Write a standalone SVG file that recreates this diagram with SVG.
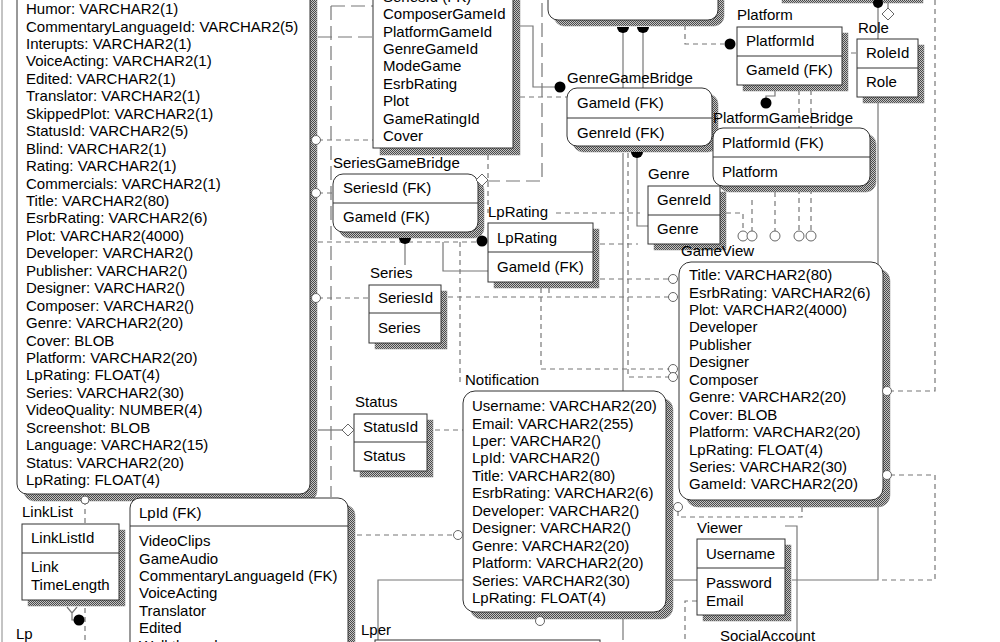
<svg xmlns="http://www.w3.org/2000/svg" width="1000" height="642" viewBox="0 0 1000 642">
<style>
.box{fill:#fff;stroke:#333;stroke-width:1}
.sh{fill:url(#hatch);stroke:#888;stroke-width:0.5}
.dv{stroke:#333;stroke-width:1}
.t{font-family:"Liberation Sans",Arial,sans-serif;font-size:15px;fill:#000}
.ln{fill:none;stroke:#777;stroke-width:1.2}
.ds{stroke-dasharray:5 4}
.ld{stroke-dasharray:14 6}
.dot{fill:#000}
.hc{fill:#fff;stroke:#666;stroke-width:1}
</style>
<defs>
<pattern id="hatch" width="2" height="2" patternUnits="userSpaceOnUse">
<rect width="2" height="2" fill="#c4c4c4"/>
<rect width="1" height="1" fill="#4a4a4a"/>
<rect x="1" y="1" width="1" height="1" fill="#4a4a4a"/>
</pattern>
</defs>
<rect width="1000" height="642" fill="#fff"/>
<line x1="2" y1="0" x2="2" y2="642" stroke="#888" stroke-width="1"/>

<g id="connectors">
<path class="ln ds" d="M318 140H373"/>
<path class="ln ds" d="M318 193H333"/>
<path class="ln ds" d="M318 298H369M448 297H669"/>
<path class="ln ld" d="M331 6V497M331 6H373M318 37H373"/>
<path class="ln ds" d="M318 242H478"/>
<path class="ln" d="M405 238V265"/>
<path class="ln" d="M443 242V271H488"/>
<path class="ln ds" d="M460 242V385"/>
<path class="ln ds" d="M488 155V213M556 213H640"/>
<path class="ln ld" d="M486 181H542V0"/>
<path class="ln" d="M520 26H533V87H555"/>
<path class="ln ds" d="M520 97H567"/>
<path class="ln" d="M623 27V88M643 27V88"/>
<path class="ln ds" d="M685 25V44H724"/>
<path class="ln" d="M775 90V96H766V100"/>
<path class="ln ds" d="M842 53H857"/>
<path class="ln" d="M878 3V580H792"/>
<path class="ln" d="M888 0V8"/>
<path class="ln ds" d="M935 0V391H891"/>
<path class="ln ds" d="M890 475H935V580H878"/>
<path class="ln ds" d="M726 213H743V231M752 200V231M775 192V231M799 90V231M811 90V231"/>
<path class="ln" d="M637 153V226H648"/>
<path class="ln" d="M623 153V391"/>
<path class="ln ds" d="M628 153V377H669"/>
<path class="ln ds" d="M600 279H669"/>
<path class="ln ds" d="M541 288V369H669M549 288V297"/>
<path class="ln ds" d="M600 244H638"/>
<path class="ln ds" d="M435 430H463"/>
<path class="ln" d="M318 430H344"/>
<path class="ln ds" d="M357 535H454"/>
<path class="ln" d="M463 580H378V642"/>
<path class="ln" d="M673 580H697"/>
<path class="ln ds" d="M697 601H685V642"/>
<path class="ln" d="M785 526H797V642"/>
<path class="ln ds" d="M678 511V517H802V506"/>
<path class="ln" d="M623 619V640"/>
<path class="ln ds" d="M85 500V642"/>
<path class="ln" d="M67 607L72 613L77 607M72 613V620H75"/>
</g>

<g id="big-entity">
<rect class="sh" x="24" y="-14" width="293" height="515" rx="10"/>
<rect class="box" x="17" y="-21" width="293" height="515" rx="10"/>
<text class="t" x="26" y="14">Humor: VARCHAR2(1)</text>
<text class="t" x="26" y="31.5">CommentaryLanguageId: VARCHAR2(5)</text>
<text class="t" x="26" y="49">Interupts: VARCHAR2(1)</text>
<text class="t" x="26" y="66.4">VoiceActing: VARCHAR2(1)</text>
<text class="t" x="26" y="83.8">Edited: VARCHAR2(1)</text>
<text class="t" x="26" y="101.3">Translator: VARCHAR2(1)</text>
<text class="t" x="26" y="118.7">SkippedPlot: VARCHAR2(1)</text>
<text class="t" x="26" y="136.2">StatusId: VARCHAR2(5)</text>
<text class="t" x="26" y="153.6">Blind: VARCHAR2(1)</text>
<text class="t" x="26" y="171">Rating: VARCHAR2(1)</text>
<text class="t" x="26" y="188.5">Commercials: VARCHAR2(1)</text>
<text class="t" x="26" y="206">Title: VARCHAR2(80)</text>
<text class="t" x="26" y="223.4">EsrbRating: VARCHAR2(6)</text>
<text class="t" x="26" y="240.8">Plot: VARCHAR2(4000)</text>
<text class="t" x="26" y="258.3">Developer: VARCHAR2()</text>
<text class="t" x="26" y="275.7">Publisher: VARCHAR2()</text>
<text class="t" x="26" y="293.2">Designer: VARCHAR2()</text>
<text class="t" x="26" y="310.6">Composer: VARCHAR2()</text>
<text class="t" x="26" y="328">Genre: VARCHAR2(20)</text>
<text class="t" x="26" y="345.5">Cover: BLOB</text>
<text class="t" x="26" y="363">Platform: VARCHAR2(20)</text>
<text class="t" x="26" y="380.4">LpRating: FLOAT(4)</text>
<text class="t" x="26" y="397.8">Series: VARCHAR2(30)</text>
<text class="t" x="26" y="415.3">VideoQuality: NUMBER(4)</text>
<text class="t" x="26" y="432.7">Screenshot: BLOB</text>
<text class="t" x="26" y="450.2">Language: VARCHAR2(15)</text>
<text class="t" x="26" y="467.6">Status: VARCHAR2(20)</text>
<text class="t" x="26" y="485">LpRating: FLOAT(4)</text>
</g>

<g id="game">
<rect class="sh" x="380" y="-13" width="140" height="168"/>
<rect class="box" x="373" y="-20" width="140" height="168"/>
<text class="t" x="383" y="1.6">SeriesId (FK)</text>
<text class="t" x="383" y="19">ComposerGameId</text>
<text class="t" x="383" y="36.5">PlatformGameId</text>
<text class="t" x="383" y="54">GenreGameId</text>
<text class="t" x="383" y="71.4">ModeGame</text>
<text class="t" x="383" y="88.8">EsrbRating</text>
<text class="t" x="383" y="106.3">Plot</text>
<text class="t" x="383" y="123.7">GameRatingId</text>
<text class="t" x="383" y="141.2">Cover</text>
</g>

<g id="top-mid-entity">
<rect class="sh" x="554" y="-24" width="170" height="50" rx="10"/>
<rect class="box" x="548" y="-30" width="170" height="50" rx="10"/>
</g>

<g id="top-right-entity">
<rect class="sh" x="782" y="-27" width="141" height="30"/>
<rect class="box" x="776" y="-33" width="141" height="30"/>
</g>

<g id="platform">
<text class="t" x="737" y="20">Platform</text>
<rect class="sh" x="743" y="33" width="105" height="58"/>
<rect class="box" x="737" y="27" width="105" height="58"/>
<line class="dv" x1="737" y1="56" x2="842" y2="56"/>
<text class="t" x="746" y="46">PlatformId</text>
<text class="t" x="746" y="75">GameId (FK)</text>
</g>

<g id="role">
<text class="t" x="858" y="33">Role</text>
<rect class="sh" x="863" y="45" width="61" height="58"/>
<rect class="box" x="857" y="39" width="61" height="58"/>
<line class="dv" x1="857" y1="68" x2="918" y2="68"/>
<text class="t" x="866" y="58">RoleId</text>
<text class="t" x="866" y="87">Role</text>
</g>

<g id="genre-game-bridge">
<text class="t" x="567" y="83">GenreGameBridge</text>
<rect class="sh" x="573" y="94" width="145" height="58" rx="10"/>
<rect class="box" x="567" y="88" width="145" height="58" rx="10"/>
<line class="dv" x1="567" y1="118" x2="712" y2="118"/>
<text class="t" x="577" y="108">GameId (FK)</text>
<text class="t" x="577" y="138">GenreId (FK)</text>
</g>

<g id="platform-game-bridge">
<text class="t" x="713" y="123">PlatformGameBridge</text>
<rect class="sh" x="719" y="134" width="157" height="58" rx="10"/>
<rect class="box" x="713" y="128" width="157" height="58" rx="10"/>
<line class="dv" x1="713" y1="157" x2="870" y2="157"/>
<text class="t" x="722" y="148">PlatformId (FK)</text>
<text class="t" x="722" y="177">Platform</text>
</g>

<g id="genre">
<text class="t" x="648" y="179">Genre</text>
<rect class="sh" x="654" y="192" width="72" height="58"/>
<rect class="box" x="648" y="186" width="72" height="58"/>
<line class="dv" x1="648" y1="215" x2="720" y2="215"/>
<text class="t" x="657" y="205">GenreId</text>
<text class="t" x="657" y="234">Genre</text>
</g>

<g id="series-game-bridge">
<text class="t" x="333" y="168">SeriesGameBridge</text>
<rect class="sh" x="339" y="180" width="145" height="58" rx="10"/>
<rect class="box" x="333" y="174" width="145" height="58" rx="10"/>
<line class="dv" x1="333" y1="203" x2="478" y2="203"/>
<text class="t" x="343" y="193">SeriesId (FK)</text>
<text class="t" x="343" y="222">GameId (FK)</text>
</g>

<g id="lprating">
<text class="t" x="488" y="217">LpRating</text>
<rect class="sh" x="494" y="229" width="105" height="59"/>
<rect class="box" x="488" y="223" width="105" height="59"/>
<line class="dv" x1="488" y1="252" x2="593" y2="252"/>
<text class="t" x="497" y="243">LpRating</text>
<text class="t" x="497" y="272">GameId (FK)</text>
</g>

<g id="series">
<text class="t" x="370" y="278">Series</text>
<rect class="sh" x="375" y="291" width="72" height="58"/>
<rect class="box" x="369" y="285" width="72" height="58"/>
<line class="dv" x1="369" y1="313" x2="441" y2="313"/>
<text class="t" x="378" y="303">SeriesId</text>
<text class="t" x="378" y="333">Series</text>
</g>

<g id="status">
<text class="t" x="355" y="407">Status</text>
<rect class="sh" x="360" y="420" width="73" height="57"/>
<rect class="box" x="354" y="414" width="73" height="57"/>
<line class="dv" x1="354" y1="442" x2="427" y2="442"/>
<text class="t" x="363" y="432">StatusId</text>
<text class="t" x="363" y="461">Status</text>
</g>

<g id="notification">
<text class="t" x="465" y="385">Notification</text>
<rect class="sh" x="470" y="398" width="203" height="221" rx="12"/>
<rect class="box" x="463" y="391" width="203" height="221" rx="12"/>
<text class="t" x="472" y="411">Username: VARCHAR2(20)</text>
<text class="t" x="472" y="428.5">Email: VARCHAR2(255)</text>
<text class="t" x="472" y="446">Lper: VARCHAR2()</text>
<text class="t" x="472" y="463.4">LpId: VARCHAR2()</text>
<text class="t" x="472" y="480.8">Title: VARCHAR2(80)</text>
<text class="t" x="472" y="498.3">EsrbRating: VARCHAR2(6)</text>
<text class="t" x="472" y="515.7">Developer: VARCHAR2()</text>
<text class="t" x="472" y="533.2">Designer: VARCHAR2()</text>
<text class="t" x="472" y="550.6">Genre: VARCHAR2(20)</text>
<text class="t" x="472" y="568">Platform: VARCHAR2(20)</text>
<text class="t" x="472" y="585.5">Series: VARCHAR2(30)</text>
<text class="t" x="472" y="603">LpRating: FLOAT(4)</text>
</g>

<g id="gameview">
<text class="t" x="681" y="256">GameView</text>
<rect class="sh" x="686" y="269" width="204" height="238" rx="12"/>
<rect class="box" x="679" y="262" width="204" height="238" rx="12"/>
<text class="t" x="689" y="280">Title: VARCHAR2(80)</text>
<text class="t" x="689" y="297.5">EsrbRating: VARCHAR2(6)</text>
<text class="t" x="689" y="315">Plot: VARCHAR2(4000)</text>
<text class="t" x="689" y="332.4">Developer</text>
<text class="t" x="689" y="349.8">Publisher</text>
<text class="t" x="689" y="367.3">Designer</text>
<text class="t" x="689" y="384.7">Composer</text>
<text class="t" x="689" y="402.2">Genre: VARCHAR2(20)</text>
<text class="t" x="689" y="419.6">Cover: BLOB</text>
<text class="t" x="689" y="437">Platform: VARCHAR2(20)</text>
<text class="t" x="689" y="454.5">LpRating: FLOAT(4)</text>
<text class="t" x="689" y="472">Series: VARCHAR2(30)</text>
<text class="t" x="689" y="489.4">GameId: VARCHAR2(20)</text>
</g>

<g id="viewer">
<text class="t" x="697" y="533">Viewer</text>
<rect class="sh" x="703" y="545" width="88" height="76"/>
<rect class="box" x="697" y="539" width="88" height="76"/>
<line class="dv" x1="697" y1="568" x2="785" y2="568"/>
<text class="t" x="706" y="559">Username</text>
<text class="t" x="706" y="588">Password</text>
<text class="t" x="706" y="606">Email</text>
</g>

<g id="linklist">
<text class="t" x="22" y="517">LinkList</text>
<rect class="sh" x="28" y="530" width="97" height="76"/>
<rect class="box" x="22" y="524" width="97" height="76"/>
<line class="dv" x1="22" y1="553" x2="119" y2="553"/>
<text class="t" x="31" y="543">LinkListId</text>
<text class="t" x="31" y="572">Link</text>
<text class="t" x="31" y="590">TimeLength</text>
</g>

<g id="lp">
<text class="t" x="16" y="639">Lp</text>
<rect class="sh" x="137" y="505" width="218" height="200" rx="10"/>
<rect class="box" x="130" y="498" width="218" height="200" rx="10"/>
<line class="dv" x1="130" y1="526" x2="348" y2="526"/>
<text class="t" x="139" y="518">LpId (FK)</text>
<text class="t" x="139" y="546">VideoClips</text>
<text class="t" x="139" y="563.5">GameAudio</text>
<text class="t" x="139" y="581">CommentaryLanguageId (FK)</text>
<text class="t" x="139" y="598.4">VoiceActing</text>
<text class="t" x="139" y="615.8">Translator</text>
<text class="t" x="139" y="633.3">Edited</text>
<text class="t" x="139" y="650.7">Walkthrough</text>
</g>

<g id="lper">
<text class="t" x="361" y="635">Lper</text>
<rect class="box" x="375" y="640" width="225" height="30"/>
</g>

<g id="social-account">
<text class="t" x="720" y="641">SocialAccount</text>
</g>

<g id="connector-ends">
<circle class="hc" cx="316" cy="140" r="4.5"/>
<circle class="hc" cx="316" cy="193" r="4.5"/>
<circle class="hc" cx="316" cy="298" r="4.5"/>
<circle class="hc" cx="673" cy="297" r="4.5"/>
<circle class="hc" cx="673" cy="279" r="4.5"/>
<circle class="hc" cx="673" cy="369" r="4.5"/>
<circle class="hc" cx="673" cy="377" r="4.5"/>
<circle class="hc" cx="887" cy="391" r="4.5"/>
<circle class="hc" cx="887" cy="475" r="4.5"/>
<circle class="hc" cx="458" cy="535" r="4.5"/>
<circle class="hc" cx="678" cy="507" r="4.5"/>
<circle class="hc" cx="540" cy="621" r="4.5"/>
<circle class="hc" cx="85" cy="500" r="4"/>
<circle class="hc" cx="743" cy="236" r="5"/>
<circle class="hc" cx="752" cy="236" r="5"/>
<circle class="hc" cx="775" cy="236" r="5"/>
<circle class="hc" cx="799" cy="236" r="5"/>
<circle class="hc" cx="811" cy="236" r="5"/>
<circle class="dot" cx="482" cy="241" r="5.5"/>
<circle class="dot" cx="560" cy="87" r="5.5"/>
<circle class="dot" cx="730" cy="44" r="5.5"/>
<circle class="dot" cx="766" cy="103" r="5.5"/>
<circle class="dot" cx="878" cy="3" r="5"/>
<circle class="dot" cx="79" cy="620" r="5.5"/>
<path class="dot" d="M617 27a6 6 0 0 0 12 0Z"/>
<path class="dot" d="M637 27a6 6 0 0 0 12 0Z"/>
<path class="dot" d="M631 152a6 6 0 0 0 12 0Z"/>
<path class="dot" d="M399 238a6 6 0 0 0 12 0Z"/>
<path class="hc" d="M482 174L488 180L482 186L476 180Z"/>
<path class="hc" d="M348 424L354 430L348 436L342 430Z"/>
<path class="hc" d="M888 8L894 14L888 20L882 14Z"/>
</g>
</svg>
